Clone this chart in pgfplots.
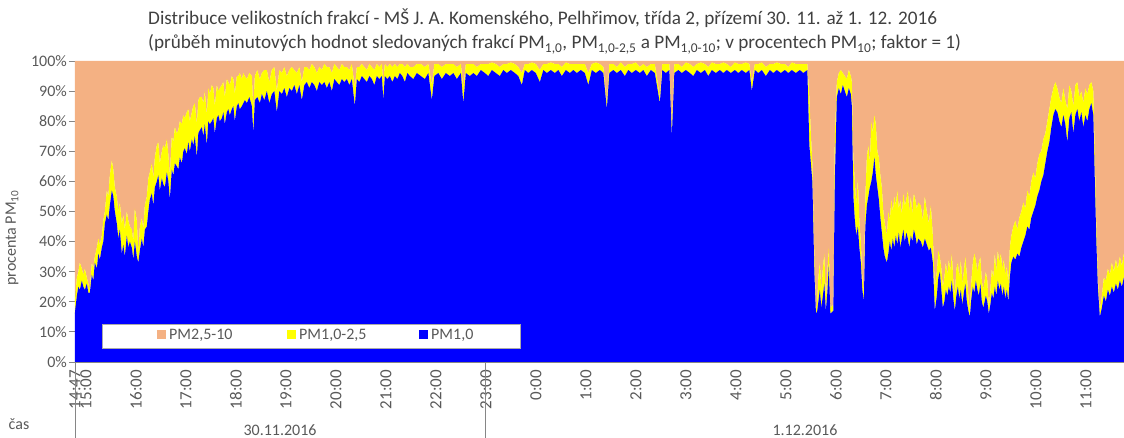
\documentclass[border=0pt]{standalone}
\usepackage{fontspec}
\setmainfont{Carlito}
\usepackage{pgfplots}
\pgfplotsset{compat=1.18}
\usepackage{pgfplotstable}

\definecolor{pmcoarse}{HTML}{F4B183}
\definecolor{pmmid}{HTML}{FFFF00}
\definecolor{pmfine}{HTML}{0000FF}
\definecolor{txt}{HTML}{595959}
\definecolor{ttl}{HTML}{404040}
\definecolor{axisgray}{HTML}{868686}
\newcommand\lab{\fontsize{16}{19}\selectfont}
\newcommand\tlab{\fontsize{17}{20}\selectfont}
\newcommand\ttlfont{\fontsize{19.2}{23}\selectfont}

% minute shares, cumulative: b = PM1,0 ; a = PM1,0 + PM1,0-2,5 (both in % of PM10)
% t = hours since 0:00 on 30.11.2016
\pgfplotstableread{
t b a
14.78 16 20
14.82 22 28
14.85 25 30
14.88 24 33
14.92 27 31
14.95 25 29
14.98 24 31
15.02 26 28
15.05 23 26
15.08 23 24
15.12 29 33
15.15 27 31
15.18 33 35
15.22 31 38
15.25 36 41
15.28 34 39
15.32 38 42
15.35 40 47
15.38 46 50
15.42 49 57
15.45 47 55
15.48 52 62
15.52 57 67
15.55 55 64
15.58 50 58
15.62 46 55
15.65 41 50
15.68 44 53
15.72 36 46
15.75 39 49
15.78 35 44
15.82 42 50
15.85 38 47
15.88 40 45
15.92 38 44
15.95 34 40
15.98 40 51
16.02 35 47
16.05 33 36
16.08 37 45
16.12 41 48
16.15 38 44
16.18 44 52
16.22 45 55
16.25 50 61
16.28 54 63
16.32 56 66
16.35 52 61
16.38 58 68
16.42 60 72
16.45 62 73
16.48 57 66
16.52 61 70
16.55 59 72
16.58 58 71
16.62 63 74
16.65 60 69
16.68 54 62
16.72 64 75
16.75 62 73
16.78 66 78
16.82 65 76
16.85 64 77
16.88 68 80
16.92 66 79
16.95 70 82
16.98 71 81
17.02 69 83
17.05 73 84
17.08 70 80
17.12 74 83
17.15 72 85
17.18 75 86
17.22 68 79
17.25 76 87
17.28 77 88
17.32 78 88
17.35 75 86
17.38 79 90
17.42 72 82
17.45 80 91
17.48 79 89
17.52 80 92
17.55 81 91
17.58 76 85
17.62 81 92
17.65 82 90
17.68 80 91
17.72 81 92
17.75 83 93
17.78 79 88
17.82 83 94
17.85 84 93
17.88 82 92
17.92 84 95
17.95 85 94
17.98 80 89
18.02 85 95
18.05 86 95
18.08 84 96
18.12 85 94
18.15 86 96
18.18 87 95
18.22 86 94
18.27 88 96
18.32 85 95
18.35 76 84
18.38 87 95
18.43 88 97
18.48 86 94
18.52 89 96
18.57 87 97
18.62 90 97
18.67 86 93
18.72 89 97
18.77 90 98
18.82 83 90
18.87 90 97
18.92 89 96
18.97 91 98
19.02 88 95
19.07 91 97
19.12 90 98
19.17 92 97
19.22 89 96
19.27 92 98
19.32 87 93
19.37 92 98
19.42 93 98
19.47 91 97
19.52 93 99
19.57 92 98
19.62 90 96
19.67 93 98
19.72 92 97
19.77 93 99
19.82 91 98
19.87 93 98
19.92 90 96
19.97 94 99
20.02 93 98
20.07 92 97
20.12 94 99
20.17 93 98
20.22 94 98
20.27 92 97
20.32 94 99
20.38 85 91
20.42 94 98
20.47 93 98
20.52 95 99
20.57 94 98
20.62 93 97
20.67 95 99
20.72 94 98
20.77 92 97
20.82 95 99
20.87 94 98
20.92 95 99
20.95 87 93
20.98 95 99
21.03 94 98
21.08 95 99
21.13 93 98
21.18 95 99
21.23 94 98
21.28 96 99
21.33 95 99
21.38 93 98
21.43 96 99
21.48 95 98
21.55 94 98
21.62 96 99
21.70 95 99
21.78 94 98
21.85 96 99
21.92 87 92
21.97 95 99
22.05 96 99
22.12 94 98
22.20 96 99
22.28 95 99
22.35 96 99
22.42 94 98
22.50 96 99
22.55 86 91
22.60 96 99
22.68 95 99
22.75 96 99
22.82 95 98
22.90 97 99
22.98 96 99
23.05 95 99
23.12 97 99.5
23.20 96 99
23.28 95 98
23.35 97 99
23.42 96 99
23.50 97 99.5
23.58 96 99
23.65 95 98
23.72 92 96
23.78 97 99
23.85 96 99
23.92 97 99.5
24.00 96 99
24.08 93 97
24.15 97 99
24.22 96 99
24.30 97 99.5
24.38 96 99
24.45 97 99
24.52 95 98
24.60 97 99.5
24.68 96 99
24.75 97 99
24.82 96 99
24.90 97 99
24.98 96 99
25.05 92 96
25.12 97 99
25.20 96 99.5
25.28 97 99
25.35 96 98
25.42 84 86
25.47 96 99
25.55 97 99
25.62 96 98
25.70 97 99.5
25.78 95 98
25.85 97 99
25.92 96 99
26.00 97 99.5
26.08 96 98
26.15 97 99
26.22 95 98
26.30 97 99
26.38 96 99
26.48 86 88
26.53 97 99
26.60 96 99
26.67 97 99
26.72 75 78
26.77 96 99
26.85 97 99
26.92 96 98
27.00 97 99.5
27.08 96 99
27.15 95 98
27.22 97 99
27.30 96 99.5
27.38 97 99
27.45 95 98
27.52 97 99.5
27.60 96 99
27.68 97 99
27.75 96 99.5
27.82 97 99
27.90 96 98
27.98 97 99.5
28.05 96 99
28.12 97 99
28.20 96 99.5
28.27 97 99
28.32 90 93
28.38 97 99
28.45 96 99
28.52 97 99.5
28.60 95 98
28.68 97 99
28.75 96 99
28.82 97 99.5
28.90 96 99
28.98 97 99
29.05 96 98
29.12 97 99.5
29.20 96 99
29.28 97 99
29.35 96 99
29.43 97 99
29.47 72 88
29.50 66 76
29.53 60 66
29.57 30 36
29.60 17 19
29.62 16 18
29.65 20 28
29.68 24 33
29.71 18 24
29.74 22 31
29.77 26 36
29.80 17 20
29.83 23 30
29.86 32 38
29.89 16 18
29.95 17 19
29.98 60 75
30.02 88 93
30.06 91 96
30.10 89 97
30.14 92 96
30.18 90 95
30.22 88 94
30.26 91 97
30.30 89 95
30.32 85 93
30.35 55 68
30.38 47 60
30.41 42 52
30.44 45 61
30.47 38 47
30.50 33 40
30.53 24 28
30.56 20 23
30.59 45 55
30.62 52 68
30.65 55 72
30.68 58 66
30.71 60 80
30.74 63 76
30.77 68 82
30.80 62 79
30.83 58 70
30.86 54 68
30.89 48 62
30.92 43 58
30.95 38 50
30.98 35 46
31.02 33 42
31.05 36 50
31.08 40 47
31.11 37 54
31.14 41 50
31.17 38 55
31.20 42 52
31.23 39 57
31.26 43 51
31.29 38 54
31.32 41 49
31.35 44 56
31.38 40 52
31.41 43 54
31.44 41 57
31.47 38 50
31.50 42 55
31.53 40 49
31.56 44 56
31.59 42 54
31.62 39 51
31.65 41 53
31.70 40 52
31.74 38 47
31.78 41 55
31.82 39 50
31.86 37 46
31.90 38 52
31.94 33 42
31.98 17 25
32.02 22 30
32.05 28 37
32.08 30 35
32.11 24 31
32.14 18 25
32.17 20 28
32.20 24 33
32.23 22 29
32.26 25 34
32.29 23 30
32.32 27 36
32.35 21 27
32.38 17 22
32.41 22 31
32.44 25 33
32.47 21 28
32.50 24 34
32.53 19 26
32.56 23 30
32.59 26 35
32.62 20 29
32.65 17 22
32.68 15 17
32.71 21 27
32.74 25 33
32.77 23 36
32.80 27 34
32.83 24 30
32.86 22 33
32.89 26 35
32.92 20 27
32.95 18 24
33.00 22 30
33.03 20 27
33.06 16 18
33.09 19 24
33.12 23 31
33.15 21 28
33.18 25 36
33.21 22 30
33.24 27 37
33.27 24 33
33.30 26 36
33.33 22 31
33.36 25 34
33.39 21 29
33.42 24 32
33.45 20 26
33.48 28 38
33.51 33 42
33.55 35 45
33.59 34 47
33.63 36 44
33.67 35 48
33.71 38 50
33.75 40 53
33.79 42 51
33.83 45 57
33.87 44 55
33.91 48 60
33.95 50 63
33.99 52 61
34.03 55 66
34.07 57 69
34.11 60 70
34.15 62 74
34.19 66 76
34.23 70 80
34.27 73 84
34.31 78 88
34.35 82 91
34.39 84 93
34.43 83 91
34.47 80 88
34.51 78 86
34.55 82 91
34.59 79 87
34.63 73 84
34.67 81 92
34.71 83 90
34.75 76 85
34.79 82 92
34.83 84 93
34.87 80 88
34.91 83 90
34.95 78 86
34.99 82 91
35.03 80 89
35.07 84 92
35.11 86 93
35.15 82 90
35.18 60 68
35.21 40 45
35.24 25 28
35.28 15 17
35.32 18 22
35.36 22 28
35.40 20 27
35.44 24 31
35.48 22 29
35.52 25 33
35.56 23 30
35.60 26 34
35.64 24 31
35.68 27 35
35.72 25 32
35.76 28 36
35.80 26 33
}\fractions

\begin{document}
\begin{tikzpicture}
\path[use as bounding box] (0pt,0pt) rectangle (1124pt,438pt);

\begin{axis}[
  at={(75pt,76pt)}, anchor=south west,
  scale only axis, width=1050.85pt, height=301pt,
  xmin=14.7833, xmax=35.8, ymin=0, ymax=100,
  stack plots=y,
  clip mode=individual,
  axis x line*=bottom, axis y line*=left,
  axis line style={axisgray, line width=0.8pt},
  tick align=outside, major tick length=6pt,
  xtick style={draw=none},
  ytick style={axisgray, line width=0.8pt},
  ytick={0,10,20,30,40,50,60,70,80,90,100},
  yticklabels={0\%,10\%,20\%,30\%,40\%,50\%,60\%,70\%,80\%,90\%,100\%},
  xtick={14.7833,15,16,17,18,19,20,21,22,23,24,25,26,27,28,29,30,31,32,33,34,35},
  xticklabels={14:47,15:00,16:00,17:00,18:00,19:00,20:00,21:00,22:00,23:00,0:00,1:00,2:00,3:00,4:00,5:00,6:00,7:00,8:00,9:00,10:00,11:00},
  ticklabel style={text=txt},
  xticklabel style={font=\tlab, rotate=90, anchor=east, inner sep=2pt},
  yticklabel style={font=\lab, anchor=east, inner sep=2pt},
]
\addplot[draw=none, fill=pmfine] table[x=t, y=b]{\fractions} \closedcycle;
\addplot[draw=none, fill=pmmid] table[x=t, y expr=\thisrow{a}-\thisrow{b}]{\fractions} \closedcycle;
\addplot[draw=none, fill=pmcoarse] table[x=t, y expr=100-\thisrow{a}]{\fractions} \closedcycle;
\coordinate (daystart) at (axis cs:14.7833,0);
\coordinate (daysplit) at (axis cs:23,0);
\end{axis}

% day separators and day labels below the time axis
\draw[axisgray, line width=0.8pt] (daystart) -- ++(0pt,-76pt);
\draw[axisgray, line width=0.8pt] (daysplit) -- ++(0pt,-76pt);
\node[font=\lab, text=txt] at (280pt,8pt) {30.11.2016};
\node[font=\lab, text=txt] at (805pt,8pt) {1.12.2016};
\node[font=\lab, text=txt] at (19pt,14pt) {čas};

% y axis title
\node[font=\lab, text=txt, rotate=90] at (12pt,200pt) {procenta PM\textsubscript{10}};

% chart title
\node[font=\ttlfont, text=ttl, anchor=base west, inner sep=0pt] at (148pt,413pt)
  {Distribuce velikostních frakcí - MŠ J. A. Komenského, Pelhřimov, třída 2, přízemí 30. 11. až 1. 12. 2016};
\node[font=\ttlfont, text=ttl, anchor=base west, inner sep=0pt] at (148pt,389pt)
  {(průběh minutových hodnot sledovaných frakcí PM\textsubscript{1,0}, PM\textsubscript{1,0-2,5} a PM\textsubscript{1,0-10}; v procentech PM\textsubscript{10}; faktor = 1)};

% legend
\node[draw=axisgray!70, fill=white, anchor=south west, inner sep=0pt,
      minimum width=418pt, minimum height=24pt, font=\lab, text=txt]
  at (102pt,90pt)
  {\makebox[418pt][l]{\hspace*{55pt}\textcolor{pmcoarse}{\rule[1pt]{9pt}{9pt}}\hspace{3pt}\makebox[118pt][l]{PM2,5-10}%
   \textcolor{pmmid}{\rule[1pt]{9pt}{9pt}}\hspace{3pt}\makebox[120pt][l]{PM1,0-2,5}%
   \textcolor{pmfine}{\rule[1pt]{9pt}{9pt}}\hspace{3pt}PM1,0}};
\end{tikzpicture}
\end{document}
